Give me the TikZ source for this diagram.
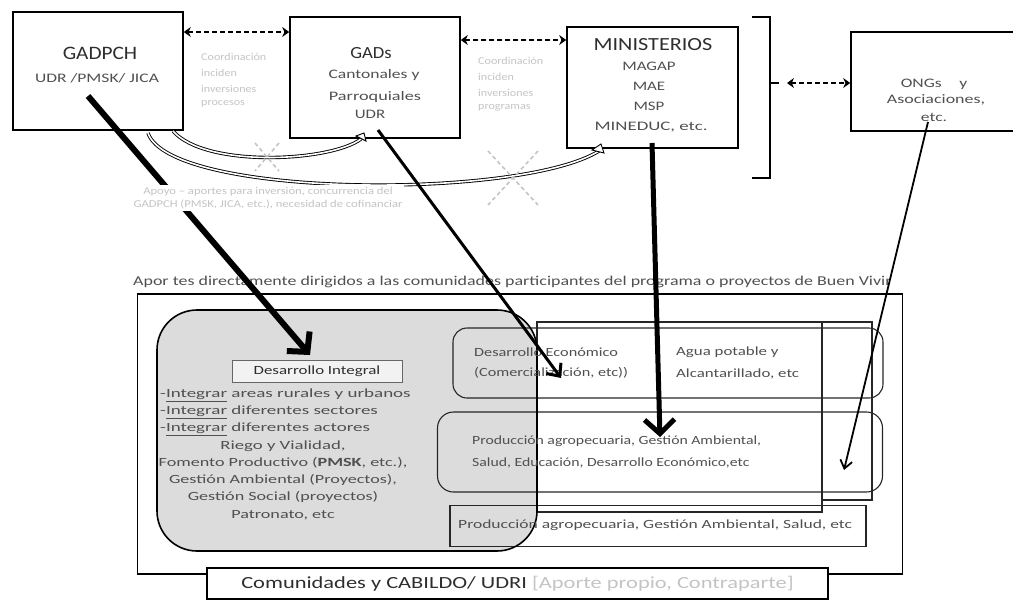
\documentclass[tikz,border=0pt]{standalone}
\usepackage{fontspec}
\setmainfont{Carlito}
\usetikzlibrary{arrows.meta}
\definecolor{txt}{HTML}{2E2E2E}
\definecolor{soft}{HTML}{505050}
\definecolor{faint}{HTML}{C4C4C4}
\definecolor{grayfill}{HTML}{DCDCDC}
\newcommand{\fs}[1]{\fontsize{#1}{#1}\selectfont}
\newcommand{\sx}[2]{\scalebox{#1}[1]{#2}}
\begin{document}
\begin{tikzpicture}[x=1pt,y=-1pt,
  box/.style={draw=black, line width=1.6pt, inner sep=0pt},
  thinbox/.style={draw=black!85, line width=1.1pt, inner sep=0pt},
  dashlink/.style={line width=1.8pt, dash pattern=on 5pt off 3pt, {Stealth[length=7pt,width=10pt]}-{Stealth[length=7pt,width=10pt]}},
  bigarrow/.style={line width=6pt, -{Straight Barb[length=14pt,width=30pt]}},
  midarrow/.style={line width=3pt, -{Straight Barb[length=10pt,width=18pt]}},
  thinarrow/.style={line width=1.8pt, -{Straight Barb[length=8pt,width=12pt]}},
  curve/.style={double=white, double distance=1.6pt, line width=0.9pt},
  cross/.style={draw=faint, line width=1.6pt, dash pattern=on 4pt off 3pt},
  lbl/.style={text=txt, inner sep=0pt},
  slbl/.style={text=soft, inner sep=0pt, font=\fs{13}},
  flbl/.style={text=faint, inner sep=0pt, font=\fs{10.5}, anchor=west},
  llbl/.style={text=soft, inner sep=0pt, font=\fs{12.5}}
]
\useasboundingbox (0,0) rectangle (1013,603);

% ---------- top boxes ----------
\node[box, minimum width=170pt, minimum height=118pt] (gadpch) at (98,71) {};
\node[lbl, font=\fs{19}] (t1a) at (100,53) {\sx{1.12}{GADPCH}};
\node[slbl] (t1b) at (97,78) {\sx{1.35}{UDR /PMSK/ JICA}};

\node[box, minimum width=170pt, minimum height=121pt] (gads) at (375,77.5) {};
\node[lbl, font=\fs{17}] (t2a) at (371,53) {\sx{1.1}{GADs}};
\node[slbl] (t2b) at (374,75) {\sx{1.35}{Cantonales y}};
\node[slbl] (t2c) at (375,97) {\sx{1.4}{Parroquiales}};
\node[slbl] (t2d) at (370,114) {\sx{1.3}{UDR}};

\node[box, minimum width=171pt, minimum height=121pt] (min) at (652.5,87.5) {};
\node[lbl, font=\fs{18.5}] (t3a) at (653,45) {\sx{1.2}{MINISTERIOS}};
\node[slbl] (t3b) at (649,66) {\sx{1.3}{MAGAP}};
\node[slbl] (t3c) at (649,86) {\sx{1.3}{MAE}};
\node[slbl] (t3d) at (649,106) {\sx{1.3}{MSP}};
\node[slbl] (t3e) at (651,127) {\sx{1.45}{MINEDUC, etc.}};

\node[box, minimum width=176pt, minimum height=99pt] (ongs) at (939,81.5) {};
\node[slbl] (t4a) at (934,84) {\sx{1.35}{ONGs\quad y}};
\node[slbl] (t4b) at (936,100) {\sx{1.38}{Asociaciones,}};
\node[slbl] (t4c) at (934,117) {\sx{1.35}{etc.}};

% bracket
\coordinate (brt) at (752,17);
\coordinate (brb) at (752,178);
\coordinate (brm) at (770,83);
\draw[line width=1.8pt] (brt) -- (770,17) -- (770,178) -- (brb);

% dashed links
\draw[dashlink] (gadpch.east |- 0,32) -- (gads.west |- 0,32);
\draw[dashlink] (gads.east |- 0,40) -- (min.west |- 0,40);
\draw[line width=1.8pt] (brm) -- (779,83);
\draw[dashlink] (787,83) -- (ongs.west |- 0,83);

% faint labels
\node[flbl] (f1a) at (201,57) {\sx{1.15}{Coordinación}};
\node[flbl] (f1b) at (201,73) {\sx{1.15}{inciden}};
\node[flbl] (f1c) at (201,89) {\sx{1.15}{inversiones}};
\node[flbl] (f1d) at (201,104) {\sx{1.15}{procesos}};
\node[flbl] (f2a) at (478,61) {\sx{1.15}{Coordinación}};
\node[flbl] (f2b) at (478,77) {\sx{1.15}{inciden}};
\node[flbl] (f2c) at (478,93) {\sx{1.15}{inversiones}};
\node[flbl] (f2d) at (478,108) {\sx{1.15}{programas}};

% curves and crosses
\draw[curve] (173,131) .. controls (205,168) and (330,162) .. (361,139);
\draw[line width=0.9pt, fill=white] (356,136) -- (364,133) -- (366,141) -- cycle;
\draw[curve] (148,133) .. controls (170,198) and (520,200) .. (599,151);
\draw[line width=0.9pt, fill=white] (592,150) -- (601,144) -- (604,153) -- cycle;
\draw[cross] (255,143) -- (279,171);
\draw[cross] (279,143) -- (255,171);
\draw[cross] (488,151) -- (538,205);
\draw[cross] (538,151) -- (488,205);

% ---------- title ----------
\node[lbl, text=soft, font=\fs{13.5}, anchor=west] (title) at (133,282) {\sx{1.33}{Apor tes directamente dirigidos a las comunidades participantes del programa o proyectos de Buen Vivir}};

% ---------- lower area ----------
\node[box, minimum width=765pt, minimum height=280pt] (outer) at (520,434) {};
\fill[grayfill, rounded corners=40pt] (157,310) rectangle (537,551);
\node[thinbox, rounded corners=14pt, minimum width=430pt, minimum height=70pt] (boxA) at (668,363) {};
\node[thinbox, rounded corners=16pt, minimum width=445pt, minimum height=80pt] (boxB) at (660,452) {};
\node[thinbox, minimum width=416pt, minimum height=41pt] (boxC) at (658,526) {};
\draw[draw=black!85, line width=1.1pt] (537,322) rectangle (822,512);
\draw[draw=black!85, line width=1.1pt] (822,322) rectangle (872,500);
\node[box, rounded corners=40pt, minimum width=380pt, minimum height=241pt] (integ) at (347,430.5) {};

\node[draw=black!60, line width=0.9pt, fill=black!5, minimum width=170pt, minimum height=22pt, inner sep=0pt, text=txt, font=\fs{12.5}] (di) at (317,371) {\sx{1.35}{Desarrollo Integral}};
\node[llbl, anchor=west] (l1) at (160,395) {\sx{1.52}{-\underline{Integrar} areas rurales y urbanos}};
\node[llbl, anchor=west] (l2) at (160,412) {\sx{1.52}{-\underline{Integrar} diferentes sectores}};
\node[llbl, anchor=west] (l3) at (160,429) {\sx{1.52}{-\underline{Integrar} diferentes actores}};
\node[llbl] (l4) at (283,446) {\sx{1.5}{Riego y Vialidad,}};
\node[llbl] (l5) at (283,463) {\sx{1.45}{Fomento Productivo (\textbf{PMSK}, etc.),}};
\node[llbl] (l6) at (283,480) {\sx{1.45}{Gestión Ambiental (Proyectos),}};
\node[llbl] (l7) at (283,497) {\sx{1.45}{Gestión Social (proyectos)}};
\node[llbl] (l8) at (283,515) {\sx{1.45}{Patronato, etc}};

\node[llbl, anchor=west] (ta1) at (474,352) {\sx{1.3}{Desarrollo Económico}};
\node[llbl, anchor=west] (ta2) at (474,373) {\sx{1.3}{(Comercialización, etc))}};
\node[llbl, anchor=west] (tb1) at (676,352) {\sx{1.35}{Agua potable y}};
\node[llbl, anchor=west] (tb2) at (676,374) {\sx{1.35}{Alcantarillado, etc}};
\node[llbl, anchor=west] (tc1) at (472,441) {\sx{1.26}{Producción agropecuaria, Gestión Ambiental,}};
\node[llbl, anchor=west] (tc2) at (472,463) {\sx{1.26}{Salud, Educación, Desarrollo Económico,etc}};
\node[llbl, anchor=west] (td) at (458,525) {\sx{1.4}{Producción agropecuaria, Gestión Ambiental, Salud, etc}};

\node[box, fill=white, minimum width=621pt, minimum height=31pt, font=\fs{17}] (com) at (517.5,583.5) {\sx{1.32}{\textcolor{txt}{Comunidades y CABILDO/ UDRI} \textcolor{faint}{[Aporte propio, Contraparte]}}};

% ---------- arrows ----------
\draw[bigarrow] (88,96) -- (310,355);
\node[text=faint, fill=white, inner sep=2pt, font=\fs{10.5}, align=center] (f3) at (268,198) {\sx{1.2}{Apoyo – aportes para inversión, concurrencia del}\\[3pt]\sx{1.2}{GADPCH (PMSK, JICA, etc.), necesidad de cofinanciar}};
\draw[midarrow] (378,130) -- (561,378);
\draw[bigarrow, line width=5pt] (652,143) -- (660,437);
\draw[thinarrow] (928,122) -- (844,470);
\end{tikzpicture}
\end{document}
